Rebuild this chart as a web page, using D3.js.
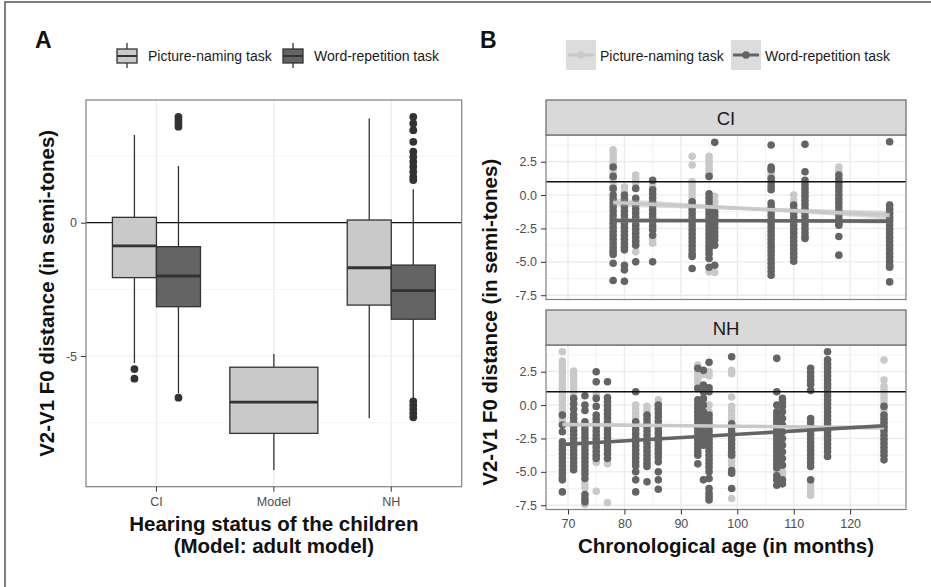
<!DOCTYPE html>
<html>
<head>
<meta charset="utf-8">
<script src="https://d3js.org/d3.v7.min.js"></script>
<style>
  body { margin: 0; background: #fff; }
  svg text { font-family: "Liberation Sans", Arial, Helvetica, sans-serif; }
</style>
</head>
<body>
<div id="chart"></div>
<script>
// ---------------- data ----------------
const groups = ["CI", "Model", "NH"]
const tasks = ["Picture-naming task", "Word-repetition task"]

// panel A box stats: [group, task, lower whisker, q1, median, q3, upper whisker]
const boxStats = [
    ["CI", 0, -5.27, -2.06, -0.87, 0.2, 3.29],
    ["CI", 1, -6.4, -3.15, -2.0, -0.9, 2.13],
    ["Model", 0, -9.27, -7.9, -6.73, -5.42, -4.92],
    ["NH", 0, -7.33, -3.09, -1.69, 0.1, 3.91],
    ["NH", 1, -6.65, -3.62, -2.55, -1.59, 1.25]
]
// outliers: [group, task, values]
const boxOutliers = [
    ["CI", 0, [-5.49, -5.85]],
    ["CI", 1, [3.97, 3.85, 3.72, 3.6, -6.56]],
    ["NH", 1, [3.97, 3.72, 3.47, 3.03, 2.66, 2.47, 2.28, 2.1, 1.91, 1.72, 1.6,
               -6.7, -6.85, -7.0, -7.15, -7.3]]
]
const ticksA = [-5, 0]
const minorA = [-7.5, -2.5, 2.5]

// panel B: [age in months, V2-V1 distances]
const facets = ["CI", "NH"]
const ageTicks = [70, 80, 90, 100, 110, 120]
const ageMinor = [75, 85, 95, 105, 115, 125]
const ticksB = [-7.5, -5, -2.5, 0, 2.5]
const minorB = [-6.25, -3.75, -1.25, 1.25, 3.75]

const ciPicture = [
    [78, [3.4, 3.1, 2.8, 2.5, 2.2, 1.9, 1.6, 1.3, 1.0, 0.7, 0.4, -4.1, -4.3]],
    [80, [0.6, 0.3]],
    [82, [1.5, 1.2, 0.9, -4.25]],
    [85, [0.9, 0.6, -3.3, -3.6]],
    [92, [2.9, 2.25, 1.0, 0.7, 0.4, 0.1, -0.2, -0.5]],
    [95, [2.9, 2.6, 2.3, 2.0, 1.7, 1.5, -3.9, -5.75]],
    [96, [-0.1, -0.5, -0.9, -1.4, -5.8]],
    [106, [1.9, 1.6, 1.4]],
    [110, [0.0, -0.4]],
    [118, [2.1, 1.8]],
    [127, [-0.75, -1.1, -1.4, -1.75]]
]
const ciWord = [
    [78, [2.1, 1.4, 0.5, 0.0, -0.3, -0.6, -0.9, -1.2, -1.5, -1.8, -2.1, -2.4, -2.7, -3.0, -3.3, -3.6, -3.9, -4.2, -4.45, -5.1, -6.4]],
    [80, [0.0, -0.3, -0.6, -0.9, -1.2, -1.5, -1.8, -2.1, -2.4, -2.7, -3.0, -3.3, -3.6, -3.9, -4.1, -5.25, -5.6, -6.45]],
    [82, [0.5, -0.25, -0.75, -1.05, -1.35, -1.65, -1.95, -2.25, -2.55, -2.85, -3.15, -3.45, -3.75, -5.0]],
    [85, [1.1, 0.4, 0.1, -0.2, -0.5, -0.8, -1.1, -1.4, -1.7, -2.0, -2.3, -2.6, -3.0, -5.0]],
    [92, [-0.5, -0.8, -1.1, -1.4, -1.7, -2.0, -2.3, -2.6, -2.9, -3.2, -3.5, -3.8, -4.1, -4.4, -4.6, -5.5]],
    [95, [1.4, 0.1, -0.2, -0.5, -0.8, -1.1, -1.4, -1.7, -2.0, -2.3, -2.6, -2.9, -3.2, -3.5, -3.8, -4.1, -4.4, -4.75, -5.4]],
    [96, [3.95, -1.25, -1.55, -1.85, -2.15, -2.45, -2.75, -3.05, -3.35, -3.75, -5.25]],
    [106, [3.75, 2.1, 1.9, 1.25, 0.95, 0.65, 0.4, -0.6, -0.9, -1.2, -1.5, -1.8, -2.1, -2.4, -2.7, -3.0, -3.3, -3.6, -3.9, -4.2, -4.5, -4.8, -5.1, -5.4, -5.7, -6.0]],
    [110, [-0.75, -1.05, -1.35, -1.65, -1.95, -2.25, -2.55, -2.85, -3.15, -3.45, -3.75, -4.05, -4.35, -4.65, -4.95]],
    [112, [3.8, 1.75, 1.1, 0.8, 0.5, 0.2, -0.1, -0.4, -0.7, -1.0, -1.3, -1.6, -1.9, -2.2, -2.5, -2.8, -3.1, -3.25]],
    [118, [1.5, 1.2, 0.9, 0.6, 0.3, 0.0, -0.3, -0.6, -0.9, -1.2, -1.5, -1.8, -2.1, -2.25, -3.1, -4.5]],
    [127, [4.0, -0.75, -1.05, -1.35, -1.65, -1.95, -2.25, -2.55, -2.85, -3.15, -3.45, -3.75, -4.05, -4.35, -4.65, -4.95, -5.25, -5.4, -6.5]]
]
const nhPicture = [
    [69, [4.0, 3.3, 3.0, 2.7, 2.4, 2.1, 1.8, 1.5, 1.2, 0.9, 0.6, 0.3, 0.0, -0.3, -0.6, -1.0, -1.3]],
    [71, [2.55, 2.25, 1.95, 1.65, 1.35, 1.05, 0.75, 0.45, 0.15, -0.2]],
    [73, [-5.9, -6.2, -7.45]],
    [75, [0.8, -4.3, -6.45]],
    [77, [0.6, -4.4, -7.3]],
    [82, [0.0, -0.3, -0.6, -0.9, -1.2]],
    [84, [-0.1, -0.4, -0.7]],
    [86, [0.4, 0.1]],
    [93, [3.0, 2.5, 2.2, 1.9, 1.6, -0.5, -1.0]],
    [94, [2.3, 1.0, 0.4, -0.2]],
    [95, [2.5, 2.2, 0.0, -0.5]],
    [99, [2.6, 2.35, 0.6, -0.1, -0.4, -0.7, -1.0, -3.6, -3.9, -4.2, -4.5, -7.0]],
    [107, [-5.0]],
    [108, [-5.0, -5.2]],
    [113, [-5.9, -6.2, -6.5, -6.75]],
    [116, [3.0, 1.5]],
    [126, [3.37, 1.87, 1.4, 1.1, 0.8, 0.5, 0.2, -0.1, -0.4, -0.7, -1.0, -1.3, -1.6, -1.75]]
]
const nhWord = [
    [69, [-0.75, -1.5, -2.0, -2.75, -3.05, -3.35, -3.65, -3.95, -4.25, -4.55, -4.85, -5.15, -5.45, -5.6, -6.5]],
    [71, [0.5, 0.1, -0.3, -0.7, -1.0, -1.3, -1.6, -1.9, -2.2, -2.5, -2.8, -3.1, -3.4, -3.7, -4.0, -4.3, -4.6, -4.85]],
    [73, [0.7, 0.0, -0.4, -1.25, -1.55, -1.85, -2.15, -2.45, -2.75, -3.05, -3.35, -3.65, -3.95, -4.25, -4.55, -4.85, -5.15, -5.5, -6.7, -7.0, -7.25]],
    [75, [2.5, 1.75, 0.5, -0.1, -0.75, -1.05, -1.35, -1.65, -1.95, -2.25, -2.55, -2.85, -3.15, -3.45, -3.75, -4.0]],
    [77, [1.75, 0.55, 0.25, -0.05, -0.35, -0.65, -0.95, -1.25, -1.55, -1.85, -2.15, -2.45, -2.75, -3.05, -3.35, -3.65, -4.0]],
    [82, [1.0, -1.25, -1.55, -1.85, -2.15, -2.45, -2.75, -3.05, -3.35, -3.65, -3.95, -4.25, -4.55, -5.0, -5.6, -6.5]],
    [84, [-0.75, -1.05, -1.35, -1.65, -1.95, -2.25, -2.55, -2.85, -3.15, -3.45, -3.75, -4.05, -4.35, -4.6, -5.75]],
    [86, [0.0, -0.3, -0.6, -0.9, -1.2, -1.5, -1.8, -2.1, -2.4, -2.7, -3.0, -3.3, -3.6, -3.9, -4.25, -5.0, -5.6, -6.3]],
    [93, [2.75, 1.25, 0.4, 0.1, -0.2, -0.5, -0.8, -1.1, -1.4, -1.7, -2.0, -2.3, -2.6, -2.9, -3.2, -3.5, -3.75, -4.4]],
    [94, [2.6, 1.5, 1.0, 0.5, 0.0, -0.5, -1.0, -1.5, -2.0, -2.5, -3.0, -5.6]],
    [95, [3.2, 1.3, 1.0, -0.75, -1.05, -1.35, -1.65, -1.95, -2.25, -2.55, -2.85, -3.15, -3.45, -3.75, -4.05, -4.35, -4.65, -5.0, -5.5, -6.25, -6.6, -6.85, -7.1]],
    [99, [3.62, -1.4, -1.7, -2.0, -2.3, -2.6, -2.9, -3.2, -3.5, -3.75, -4.9, -5.1, -6.25]],
    [107, [3.5, 1.0, 0.0, -0.5, -0.8, -1.1, -1.4, -1.7, -2.0, -2.3, -2.6, -2.9, -3.2, -3.5, -3.8, -4.1, -4.4, -4.7, -5.3, -5.6, -6.0]],
    [108, [0.5, 0.2, -0.1, -0.5, -1.0, -1.5, -2.0, -2.5, -3.0, -3.5, -4.0, -4.5, -5.6, -5.9]],
    [113, [2.75, 2.45, 2.15, 1.85, 1.55, 1.1, -1.0, -1.3, -1.6, -1.9, -2.2, -2.5, -2.8, -3.1, -3.4, -3.7, -4.0, -4.3, -4.6, -5.6]],
    [116, [4.0, 3.4, 3.1, 2.8, 2.5, 2.2, 1.9, 1.6, 1.3, 1.0, 0.7, 0.4, 0.1, -0.2, -0.5, -0.8, -1.1, -1.4, -1.7, -2.0, -2.3, -2.6, -2.9, -3.2, -3.5, -3.85]],
    [126, [-0.1, -0.75, -1.05, -1.35, -1.65, -1.95, -2.25, -2.55, -2.85, -3.15, -3.45, -3.75, -4.1]]
]
// linear fits: [facet, task, age from, age to, fit from, fit to, se at ends, se at middle]
const trends = [
    ["CI", 0, 78, 127, -0.55, -1.5, 0.3, 0.12],
    ["CI", 1, 78, 127, -1.9, -1.95, 0.2, 0.1],
    ["NH", 0, 69, 126, -1.45, -1.7, 0.15, 0.07],
    ["NH", 1, 69, 126, -2.95, -1.55, 0.15, 0.07]
]
const pointSets = {CI: [ciPicture, ciWord], NH: [nhPicture, nhWord]}

// ---------------- drawing ----------------
const W = 931, H = 587
const fills = ["#c9c9c9", "#646464"]
const ink = "#333333"
const gridCol = "#ebebeb"
const borderCol = "#808080"
const tickText = "#4d4d4d"
const titleSize = "20.5px"

const svg = d3.select("#chart").append("svg")
    .attr("width", W).attr("height", H)
    .style("background", "#fff")

// frame of the figure (top and left edges visible)
svg.append("path").attr("d", `M5,${H} L5,2 L${W},2`)
    .attr("fill", "none").attr("stroke", "#555").attr("stroke-width", 1.5)

function styleAxis(g) {
    g.select(".domain").remove()
    g.selectAll(".tick line").attr("stroke", ink).attr("stroke-width", 1)
    g.selectAll(".tick text").attr("fill", tickText).style("font-size", "12.5px")
}

// ===== Panel A =====
const a = {left: 86, right: 461.7, top: 100, bottom: 486.7}
const xA = d3.scaleBand().domain(groups).range([a.left, a.right]).paddingInner(0).paddingOuter(0.1)
const yA = d3.scaleLinear().domain([-9.9, 4.6]).range([a.bottom, a.top])
const gA = svg.append("g")

gA.selectAll(".minorA").data(minorA).enter().append("line")
    .attr("x1", a.left).attr("x2", a.right)
    .attr("y1", d => yA(d)).attr("y2", d => yA(d))
    .attr("stroke", "#f2f2f2").attr("stroke-width", 0.8)
gA.selectAll(".majorA").data(ticksA).enter().append("line")
    .attr("x1", a.left).attr("x2", a.right)
    .attr("y1", d => yA(d)).attr("y2", d => yA(d))
    .attr("stroke", gridCol).attr("stroke-width", 1.2)
gA.selectAll(".vgridA").data(groups).enter().append("line")
    .attr("x1", d => xA(d) + xA.bandwidth() / 2).attr("x2", d => xA(d) + xA.bandwidth() / 2)
    .attr("y1", a.top).attr("y2", a.bottom)
    .attr("stroke", gridCol).attr("stroke-width", 1.2)

// zero line
gA.append("line").attr("x1", a.left).attr("x2", a.right)
    .attr("y1", yA(0)).attr("y2", yA(0))
    .attr("stroke", "#111").attr("stroke-width", 1.3)

function boxGeom(g, t) {
    const n = boxStats.filter(s => s[0] === g).length
    const full = xA.bandwidth() * 0.75
    const w = full / n
    const x0 = xA(g) + xA.bandwidth() / 2 - full / 2 + t * w
    return {x0: x0, w: w, cx: x0 + w / 2}
}

boxStats.forEach(s => {
    const [g, t, lw, q1, med, q3, uw] = s
    const bg = boxGeom(g, t)
    gA.append("line").attr("x1", bg.cx).attr("x2", bg.cx)
        .attr("y1", yA(uw)).attr("y2", yA(q3))
        .attr("stroke", ink).attr("stroke-width", 1.3)
    gA.append("line").attr("x1", bg.cx).attr("x2", bg.cx)
        .attr("y1", yA(q1)).attr("y2", yA(lw))
        .attr("stroke", ink).attr("stroke-width", 1.3)
    gA.append("rect").attr("x", bg.x0).attr("width", bg.w)
        .attr("y", yA(q3)).attr("height", yA(q1) - yA(q3))
        .attr("fill", fills[t]).attr("stroke", ink).attr("stroke-width", 1.3)
    gA.append("line").attr("x1", bg.x0).attr("x2", bg.x0 + bg.w)
        .attr("y1", yA(med)).attr("y2", yA(med))
        .attr("stroke", ink).attr("stroke-width", 2.8)
})

boxOutliers.forEach(o => {
    const bg = boxGeom(o[0], o[1])
    gA.selectAll(null).data(o[2]).enter().append("circle")
        .attr("cx", bg.cx).attr("cy", d => yA(d)).attr("r", 3.9)
        .attr("fill", ink)
})

gA.append("rect").attr("x", a.left).attr("y", a.top)
    .attr("width", a.right - a.left).attr("height", a.bottom - a.top)
    .attr("fill", "none").attr("stroke", borderCol).attr("stroke-width", 1.2)

gA.append("g").attr("transform", `translate(${a.left},0)`)
    .call(d3.axisLeft(yA).tickValues(ticksA).tickSize(5).tickPadding(4).tickFormat(d => String(d)))
    .call(styleAxis)
gA.append("g").attr("transform", `translate(0,${a.bottom})`)
    .call(d3.axisBottom(xA).tickSize(5).tickPadding(5))
    .call(styleAxis)

gA.append("text").attr("transform", `translate(54,${(a.top + a.bottom) / 2}) rotate(-90)`)
    .attr("text-anchor", "middle").style("font-size", titleSize).style("font-weight", "bold")
    .attr("fill", "#111").text("V2-V1 F0 distance (in semi-tones)")
gA.append("text").attr("x", (a.left + a.right) / 2).attr("y", 531)
    .attr("text-anchor", "middle").style("font-size", titleSize).style("font-weight", "bold")
    .attr("fill", "#111").text("Hearing status of the children")
gA.append("text").attr("x", (a.left + a.right) / 2).attr("y", 553)
    .attr("text-anchor", "middle").style("font-size", titleSize).style("font-weight", "bold")
    .attr("fill", "#111").text("(Model: adult model)")

svg.append("text").attr("x", 35).attr("y", 48.3).style("font-size", "23px")
    .style("font-weight", "bold").attr("fill", "#111").text("A")
svg.append("text").attr("x", 480).attr("y", 48.3).style("font-size", "23px")
    .style("font-weight", "bold").attr("fill", "#111").text("B")

// legend A
const legA = [116, 282]
tasks.forEach((t, i) => {
    const lx = legA[i]
    const lg = svg.append("g").attr("transform", `translate(${lx},0)`)
    lg.append("line").attr("x1", 11).attr("x2", 11).attr("y1", 43).attr("y2", 68)
        .attr("stroke", ink).attr("stroke-width", 1.3)
    lg.append("rect").attr("x", 1).attr("y", 49).attr("width", 20).attr("height", 14)
        .attr("fill", fills[i]).attr("stroke", ink).attr("stroke-width", 1.3)
    lg.append("line").attr("x1", 1).attr("x2", 21).attr("y1", 56).attr("y2", 56)
        .attr("stroke", ink).attr("stroke-width", 2)
    lg.append("text").attr("x", 32).attr("y", 61).style("font-size", "14px")
        .attr("fill", "#1a1a1a").text(t)
})

// ===== Panel B =====
const b = {left: 546, right: 906}
const layoutB = {CI: {strip: 100, top: 135, bottom: 299.5}, NH: {strip: 310, top: 345, bottom: 509.5}}
const xB = d3.scaleLinear().domain([66.1, 129.9]).range([b.left, b.right])

facets.forEach(f => {
    const L = layoutB[f]
    const yB = d3.scaleLinear().domain([-7.82, 4.5]).range([L.bottom, L.top])
    const g = svg.append("g")

    g.selectAll(null).data(minorB).enter().append("line")
        .attr("x1", b.left).attr("x2", b.right)
        .attr("y1", d => yB(d)).attr("y2", d => yB(d))
        .attr("stroke", "#f0f0f0").attr("stroke-width", 0.9)
    g.selectAll(null).data(ageMinor).enter().append("line")
        .attr("x1", d => xB(d)).attr("x2", d => xB(d))
        .attr("y1", L.top).attr("y2", L.bottom)
        .attr("stroke", "#f0f0f0").attr("stroke-width", 0.9)
    g.selectAll(null).data(ticksB).enter().append("line")
        .attr("x1", b.left).attr("x2", b.right)
        .attr("y1", d => yB(d)).attr("y2", d => yB(d))
        .attr("stroke", gridCol).attr("stroke-width", 1.3)
    g.selectAll(null).data(ageTicks).enter().append("line")
        .attr("x1", d => xB(d)).attr("x2", d => xB(d))
        .attr("y1", L.top).attr("y2", L.bottom)
        .attr("stroke", gridCol).attr("stroke-width", 1.3)

    // points: picture-naming first, word-repetition on top
    pointSets[f].forEach((cols, t) => {
        cols.forEach(c => {
            g.selectAll(null).data(c[1]).enter().append("circle")
                .attr("cx", xB(c[0])).attr("cy", d => yB(d)).attr("r", 3.8)
                .attr("fill", fills[t])
        })
    })

    // reference line
    g.append("line").attr("x1", b.left).attr("x2", b.right)
        .attr("y1", yB(1)).attr("y2", yB(1))
        .attr("stroke", "#111").attr("stroke-width", 1.3)

    // fitted lines with ribbons
    trends.filter(tr => tr[0] === f).forEach(tr => {
        const [, t, x0, x1, f0, f1, seEnd, seMid] = tr
        const xm = (x0 + x1) / 2, fm = (f0 + f1) / 2
        const rib = [[x0, f0, seEnd], [xm, fm, seMid], [x1, f1, seEnd]]
        g.append("path").datum(rib)
            .attr("d", d3.area().x(d => xB(d[0])).y0(d => yB(d[1] - d[2])).y1(d => yB(d[1] + d[2])))
            .attr("fill", "#999").attr("opacity", 0.35)
        g.append("path").datum([[x0, f0], [x1, f1]])
            .attr("d", d3.line().x(d => xB(d[0])).y(d => yB(d[1])))
            .attr("fill", "none").attr("stroke", fills[t]).attr("stroke-width", 3.6)
    })

    g.append("rect").attr("x", b.left).attr("y", L.top)
        .attr("width", b.right - b.left).attr("height", L.bottom - L.top)
        .attr("fill", "none").attr("stroke", borderCol).attr("stroke-width", 1.2)

    // strip
    g.append("rect").attr("x", b.left).attr("y", L.strip)
        .attr("width", b.right - b.left).attr("height", L.top - L.strip)
        .attr("fill", "#d9d9d9").attr("stroke", "#666").attr("stroke-width", 1.2)
    g.append("text").attr("x", (b.left + b.right) / 2).attr("y", L.strip + 24.5)
        .attr("text-anchor", "middle").style("font-size", "18.5px").attr("fill", "#1a1a1a")
        .text(f)

    g.append("g").attr("transform", `translate(${b.left},0)`)
        .call(d3.axisLeft(yB).tickValues(ticksB).tickSize(5).tickPadding(4).tickFormat(d => d.toFixed(1)))
        .call(styleAxis)
    if (f === "NH") {
        g.append("g").attr("transform", `translate(0,${L.bottom})`)
            .call(d3.axisBottom(xB).tickValues(ageTicks).tickSize(5).tickPadding(5))
            .call(styleAxis)
    }
})

svg.append("text").attr("transform", `translate(497,${(layoutB.CI.top + layoutB.NH.bottom) / 2}) rotate(-90)`)
    .attr("text-anchor", "middle").style("font-size", titleSize).style("font-weight", "bold")
    .attr("fill", "#111").text("V2-V1 F0 distance (in semi-tones)")
svg.append("text").attr("x", (b.left + b.right) / 2).attr("y", 552.5)
    .attr("text-anchor", "middle").style("font-size", titleSize).style("font-weight", "bold")
    .attr("fill", "#111").text("Chronological age (in months)")

// legend B
const legB = [566, 731]
tasks.forEach((t, i) => {
    const lg = svg.append("g").attr("transform", `translate(${legB[i]},0)`)
    lg.append("rect").attr("x", 0).attr("y", 40).attr("width", 30).attr("height", 30)
        .attr("fill", "#dcdcdc")
    lg.append("line").attr("x1", 2).attr("x2", 28).attr("y1", 55).attr("y2", 55)
        .attr("stroke", fills[i]).attr("stroke-width", 3)
    lg.append("circle").attr("cx", 15).attr("cy", 55).attr("r", 3.8).attr("fill", fills[i])
    lg.append("text").attr("x", 34).attr("y", 60.5).style("font-size", "14px")
        .attr("fill", "#1a1a1a").text(t)
})
</script>
</body>
</html>
